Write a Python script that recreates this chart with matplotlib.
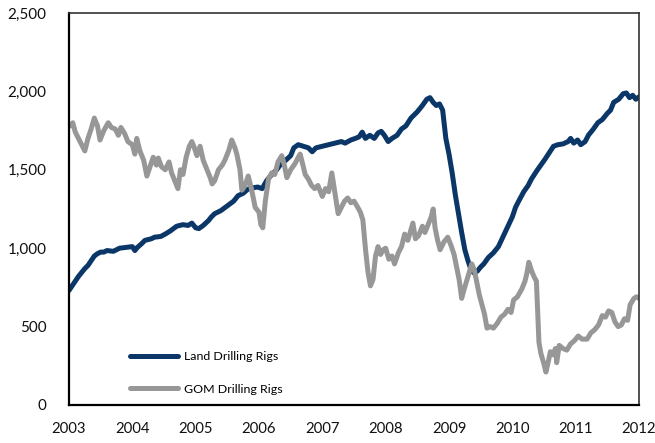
import matplotlib
matplotlib.use('Agg')
import matplotlib.pyplot as plt
from matplotlib.ticker import FuncFormatter

# Land drilling rigs (blue)
land_years = [2003.0, 2003.05, 2003.1, 2003.15, 2003.2, 2003.25, 2003.3, 2003.35, 2003.4, 2003.45,
              2003.5, 2003.55, 2003.6, 2003.7, 2003.75, 2003.8, 2003.9, 2004.0, 2004.04, 2004.08,
              2004.15, 2004.2, 2004.3, 2004.35, 2004.45, 2004.52, 2004.6, 2004.7, 2004.8, 2004.88,
              2004.94, 2005.0, 2005.05, 2005.12, 2005.2, 2005.25, 2005.3, 2005.4, 2005.5, 2005.6,
              2005.67, 2005.75, 2005.82, 2005.9, 2005.98, 2006.05, 2006.12, 2006.2, 2006.28, 2006.35,
              2006.42, 2006.5, 2006.55, 2006.62, 2006.7, 2006.78, 2006.84, 2006.9, 2007.0, 2007.1,
              2007.2, 2007.3, 2007.36, 2007.45, 2007.52, 2007.58, 2007.63, 2007.68, 2007.75, 2007.82,
              2007.88, 2007.93, 2007.98, 2008.04, 2008.1, 2008.18, 2008.25, 2008.32, 2008.4, 2008.5,
              2008.58, 2008.65, 2008.7, 2008.75, 2008.8, 2008.85, 2008.9, 2008.95, 2009.0, 2009.05,
              2009.1, 2009.15, 2009.2, 2009.25, 2009.3, 2009.35, 2009.4, 2009.45, 2009.5, 2009.55,
              2009.62, 2009.7, 2009.78, 2009.85, 2009.92, 2010.0, 2010.05, 2010.1, 2010.18, 2010.25,
              2010.3, 2010.38, 2010.45, 2010.52, 2010.6, 2010.65, 2010.72, 2010.8, 2010.88, 2010.92,
              2010.97, 2011.03, 2011.08, 2011.15, 2011.2, 2011.28, 2011.35, 2011.42, 2011.5, 2011.55,
              2011.6, 2011.68, 2011.75, 2011.8, 2011.85, 2011.9, 2011.95, 2012.0]
land_rigs = [730, 760, 790, 820, 845, 870, 890, 920, 950, 965,
             975, 975, 985, 980, 990, 1000, 1005, 1010, 985, 1005,
             1030, 1050, 1060, 1070, 1075, 1090, 1110, 1140, 1150, 1145,
             1160, 1130, 1125, 1145, 1175, 1200, 1220, 1240, 1270, 1300,
             1335, 1350, 1375, 1385, 1390, 1380, 1430, 1470, 1500, 1540,
             1560, 1590, 1640, 1660, 1650, 1640, 1615, 1640, 1650, 1660,
             1670, 1680, 1670, 1690, 1700, 1710, 1740, 1700, 1720, 1700,
             1735, 1745, 1720, 1680, 1700, 1720, 1760, 1780, 1830, 1870,
             1910, 1950, 1960, 1930, 1910, 1920, 1880, 1700, 1600, 1480,
             1340, 1220, 1100, 990, 920, 860, 840, 855, 880, 900,
             940, 970, 1010, 1070, 1130, 1200, 1260, 1300, 1360, 1400,
             1440, 1490, 1530, 1570, 1620, 1650, 1660, 1665, 1680, 1700,
             1670, 1690, 1660, 1680, 1720, 1760, 1800, 1820, 1860, 1880,
             1930, 1950, 1985, 1990, 1960, 1975, 1950, 1965]

# Gulf of Mexico drilling rigs (gray)
gom_years = [2003.0, 2003.03, 2003.06, 2003.1, 2003.15, 2003.2, 2003.25, 2003.3, 2003.35, 2003.4,
             2003.45, 2003.49, 2003.55, 2003.62, 2003.67, 2003.73, 2003.78, 2003.82, 2003.88, 2003.93,
             2004.0, 2004.04, 2004.07, 2004.12, 2004.18, 2004.23, 2004.28, 2004.33, 2004.38, 2004.41,
             2004.46, 2004.52, 2004.58, 2004.62, 2004.68, 2004.72, 2004.76, 2004.8, 2004.85, 2004.9,
             2004.94, 2004.98, 2005.02, 2005.07, 2005.12, 2005.18, 2005.23, 2005.26, 2005.3, 2005.36,
             2005.42, 2005.46, 2005.52, 2005.57, 2005.62, 2005.65, 2005.7, 2005.73, 2005.78, 2005.83,
             2005.88, 2005.94, 2006.0, 2006.03, 2006.06, 2006.1, 2006.15, 2006.2, 2006.25, 2006.3,
             2006.36, 2006.4, 2006.44, 2006.5, 2006.57, 2006.62, 2006.65, 2006.7, 2006.73, 2006.78,
             2006.83, 2006.88, 2006.93, 2007.0, 2007.05, 2007.1, 2007.15, 2007.2, 2007.25, 2007.3,
             2007.35, 2007.4, 2007.45, 2007.5, 2007.56, 2007.6, 2007.64, 2007.68, 2007.72, 2007.76,
             2007.8, 2007.84, 2007.88, 2007.92, 2007.96, 2008.0, 2008.05, 2008.1, 2008.14, 2008.2,
             2008.25, 2008.3, 2008.35, 2008.4, 2008.43, 2008.47, 2008.52, 2008.58, 2008.62, 2008.67,
             2008.72, 2008.75, 2008.78, 2008.82, 2008.86, 2008.92, 2008.98, 2009.03, 2009.08, 2009.12,
             2009.16, 2009.2, 2009.24, 2009.3, 2009.36, 2009.4, 2009.44, 2009.48, 2009.52, 2009.56,
             2009.6, 2009.65, 2009.7, 2009.76, 2009.82, 2009.88, 2009.93, 2009.98, 2010.02, 2010.08,
             2010.15, 2010.2, 2010.23, 2010.26, 2010.3, 2010.34, 2010.38, 2010.4, 2010.42, 2010.45,
             2010.5, 2010.53, 2010.57, 2010.6, 2010.64, 2010.68, 2010.7, 2010.74, 2010.8, 2010.86,
             2010.92, 2010.98, 2011.04, 2011.1, 2011.18, 2011.24, 2011.3, 2011.36, 2011.42, 2011.47,
             2011.52, 2011.57, 2011.62, 2011.67, 2011.72, 2011.77, 2011.82, 2011.86, 2011.92, 2011.96,
             2012.0]
gom_rigs = [1790, 1780, 1800, 1740, 1700, 1660, 1620, 1700, 1760, 1830,
            1780, 1690, 1750, 1800, 1770, 1760, 1720, 1770, 1730, 1680,
            1660, 1600, 1700, 1620, 1560, 1460, 1520, 1580, 1530, 1575,
            1520, 1500, 1550, 1480, 1420, 1380, 1500, 1470, 1580, 1650,
            1680, 1640, 1590, 1650, 1560, 1500, 1450, 1410, 1430, 1500,
            1530, 1560, 1620, 1690, 1640, 1600, 1500, 1370, 1400, 1460,
            1380, 1260, 1230, 1150, 1130, 1300, 1440, 1480, 1470, 1550,
            1590, 1530, 1450, 1500, 1540, 1580, 1600, 1520, 1470, 1440,
            1400, 1380, 1400, 1330, 1380, 1360, 1480, 1350, 1220, 1260,
            1300, 1320, 1290, 1300, 1260, 1230, 1180, 1000, 850, 760,
            800, 950, 1010, 960, 990, 1000, 930, 950, 900, 970,
            1010, 1090, 1050, 1120, 1160, 1060, 1080, 1140, 1100, 1150,
            1200, 1250, 1130, 1050, 990, 1040, 1070, 1020, 960, 880,
            800, 680, 740, 820, 900, 860, 780, 700, 640, 580,
            490, 500, 490, 520, 560, 580, 610, 590, 670, 690,
            740, 790, 840, 910, 860, 820, 790, 600, 400, 330,
            260, 210, 280, 340, 320, 360, 270, 380, 360, 350,
            390, 410, 440, 420, 420, 460, 480, 510, 570, 560,
            600, 590, 530, 500, 510, 550, 540, 640, 680, 690,
            680]

year_ticks = list(range(2003, 2013))
rig_ticks = [0, 500, 1000, 1500, 2000, 2500]

plt.rcParams['font.family'] = ['Lato', 'DejaVu Sans']

fig = plt.figure(figsize=(6.55, 4.43), dpi=100)
ax = fig.add_axes([0.1053, 0.0858, 0.8703, 0.8849])

ax.plot(land_years, land_rigs, color='#0b3768', lw=3.6, label='Land Drilling Rigs',
        solid_joinstyle='round', solid_capstyle='round')
ax.plot(gom_years, gom_rigs, color='#979797', lw=3.6, label='GOM Drilling Rigs',
        solid_joinstyle='round', solid_capstyle='round')

ax.set_xlim(2003, 2012)
ax.set_ylim(0, 2500)
ax.set_xticks(year_ticks)
ax.set_yticks(rig_ticks)
ax.yaxis.set_major_formatter(FuncFormatter(lambda v, p: f'{int(v):,}'))
ax.tick_params(axis='both', length=0, labelsize=11, colors='#111111')
ax.tick_params(axis='x', labelsize=10.7, pad=12)
ax.tick_params(axis='y', pad=16)

for side in ['left', 'bottom']:
    ax.spines[side].set_linewidth(1.6)
    ax.spines[side].set_color('black')
for side in ['top', 'right']:
    ax.spines[side].set_linewidth(1.2)
    ax.spines[side].set_color('#333333')

ax.legend(loc='lower left', bbox_to_anchor=(0.098, 0.014), frameon=False,
          fontsize=8.9, handlelength=3.9, handletextpad=0.45, labelspacing=1.75,
          borderaxespad=0)

fig.savefig('out.png', dpi=100)
